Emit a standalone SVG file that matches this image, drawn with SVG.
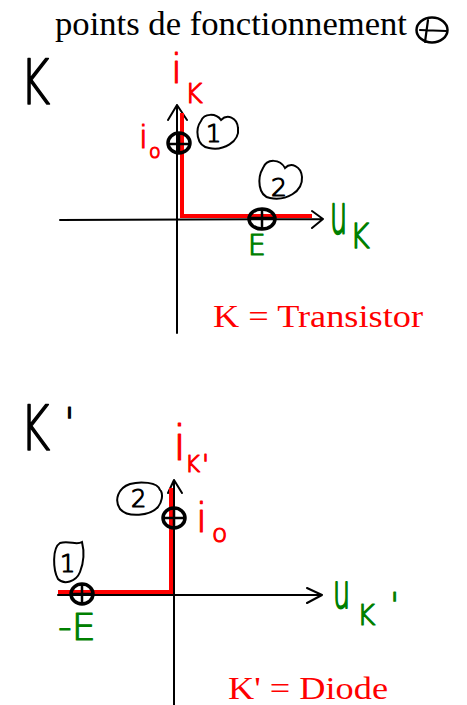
<svg xmlns="http://www.w3.org/2000/svg" width="467" height="705" viewBox="0 0 467 705">
<style>
.tex{font-family:"Liberation Serif","DejaVu Serif",serif;}
.hand{font-family:"DejaVu Sans","Liberation Sans",sans-serif;font-weight:200;stroke-width:1.2;stroke-linejoin:round;}
.red{fill:#ff0000;}
.grn{fill:#008000;}
.blk{fill:#000;}
.hand.red{stroke:#ff0000;}
.hand.grn{stroke:#008000;}
.hand.blk{stroke:#000;}
.axis{stroke:#000;stroke-width:2;fill:none;stroke-linecap:round;stroke-linejoin:round;}
.rline{stroke:#ff0000;stroke-width:4;fill:none;}
.pt{stroke:#000;stroke-width:3.5;fill:none;}
.cross{stroke:#000;stroke-width:2.5;fill:none;}
.blob{stroke:#000;stroke-width:2;fill:none;stroke-linecap:round;}
</style>
<rect width="467" height="705" fill="#fff"/>

<g id="title">
<text class="tex blk" x="55" y="35" font-size="33" textLength="352" lengthAdjust="spacingAndGlyphs">points de fonctionnement</text>
<ellipse cx="432" cy="30" rx="15.5" ry="12.5" stroke="#000" stroke-width="2.5" fill="none"/>
<path d="M420 30 L446 31 M428 20 L425 42" stroke="#000" stroke-width="2.2" fill="none" stroke-linecap="round"/>
</g>

<g id="K-label">
<text class="hand blk" transform="translate(20,104) scale(1,1.34)" font-size="46">K</text>
</g>

<g id="connectors">
<path class="axis" d="M60 220 L323 219 M312 211 L323 219 L312 228"/>
<path class="axis" d="M177 333 L177 105 M168 120 L177 105 L187 120"/>
<path class="rline" d="M182 113 L182 216 L312 216"/>
<path class="axis" d="M58 595 L322 595 M307 588 L322 595 L307 603"/>
<path class="axis" d="M174 705 L174 480 M168 493 L174 480 L182 493"/>
<path class="rline" d="M58 592 L171 592 L171 488"/>
</g>

<g id="top-point1">
<ellipse cx="179" cy="143" rx="11" ry="10" class="pt"/>
<path d="M169 144 L190 144 M179 134 L179 153" class="cross"/>
</g>
<g id="top-point1-tag">
<path class="blob" d="M201 121 C195 129,196 146,209 148 C223 151,240 142,238 128 C237 117,227 114,221 120 C216 113,204 113,201 121 Z"/>
<text class="hand blk" x="206" y="142" font-size="24">1</text>
</g>
<g id="top-point2">
<ellipse cx="262" cy="219" rx="13" ry="10" class="pt"/>
<path d="M250 218 L274 218 M262 209 L262 229" class="cross"/>
</g>
<g id="top-point2-tag">
<path class="blob" d="M263 168 C257 178,258 196,270 198 C286 201,303 192,302 177 C301 166,291 162,285 168 C280 159,267 158,263 168 Z"/>
<text class="hand blk" x="271" y="196" font-size="25">2</text>
</g>

<g id="top-labels">
<text class="hand red" x="171" y="83" font-size="40">i</text>
<text class="hand red" x="185" y="103" font-size="27">K</text>
<text class="hand red" x="139" y="148" font-size="32">i</text>
<text class="hand red" x="149" y="158" font-size="19">o</text>
<text class="hand grn" transform="translate(330,233) scale(1,2)" font-size="27">u</text>
<text class="hand grn" transform="translate(350,248) scale(1,1.14)" font-size="30">K</text>
<text class="hand grn" x="248" y="255" font-size="28">E</text>
</g>

<g id="top-caption">
<text class="tex red" x="213" y="327" font-size="32" textLength="210" lengthAdjust="spacingAndGlyphs">K = Transistor</text>
</g>

<g id="Kp-label">
<text class="hand blk" transform="translate(20,450) scale(1,1.34)" font-size="46">K</text>
<text class="hand blk" x="64" y="437" font-size="40">'</text>
</g>

<g id="bot-point2">
<ellipse cx="174" cy="518" rx="11" ry="10" class="pt"/>
<path d="M164 518 L185 518 M174 509 L174 528" class="cross"/>
</g>
<g id="bot-point2-tag">
<path class="blob" d="M160 490 C158 482,140 481,130 484 C118 488,114 500,120 509 C128 518,150 516,158 507 C162 502,163 495,161 491"/>
<text class="hand blk" x="131" y="507" font-size="24">2</text>
</g>
<g id="bot-point1">
<ellipse cx="82" cy="594" rx="11" ry="10" class="pt"/>
<path d="M72 594 L93 594 M82 585 L82 604" class="cross"/>
</g>
<g id="bot-point1-tag">
<path class="blob" d="M60 543 C52 548,53 570,58 579 C64 585,76 582,80 572 C84 562,84 550,82 542 C76 546,70 540,60 543 Z"/>
<text class="hand blk" x="60" y="572" font-size="24">1</text>
</g>

<g id="bot-labels">
<text class="hand red" x="173" y="460" font-size="48">i</text>
<text class="hand red" x="185" y="472" font-size="23">K</text>
<text class="hand red" x="202" y="474" font-size="26">'</text>
<text class="hand red" x="196" y="532" font-size="40">i</text>
<text class="hand red" x="212" y="542" font-size="25">o</text>
<text class="hand grn" transform="translate(333,608) scale(1,1.75)" font-size="27">u</text>
<text class="hand grn" x="357" y="625" font-size="28">K</text>
<text class="hand grn" x="390" y="617" font-size="34">'</text>
<text class="hand grn" x="58" y="640" font-size="38">-E</text>
</g>

<g id="bot-caption">
<text class="tex red" x="228" y="699" font-size="32" textLength="160" lengthAdjust="spacingAndGlyphs">K' = Diode</text>
</g>
</svg>
